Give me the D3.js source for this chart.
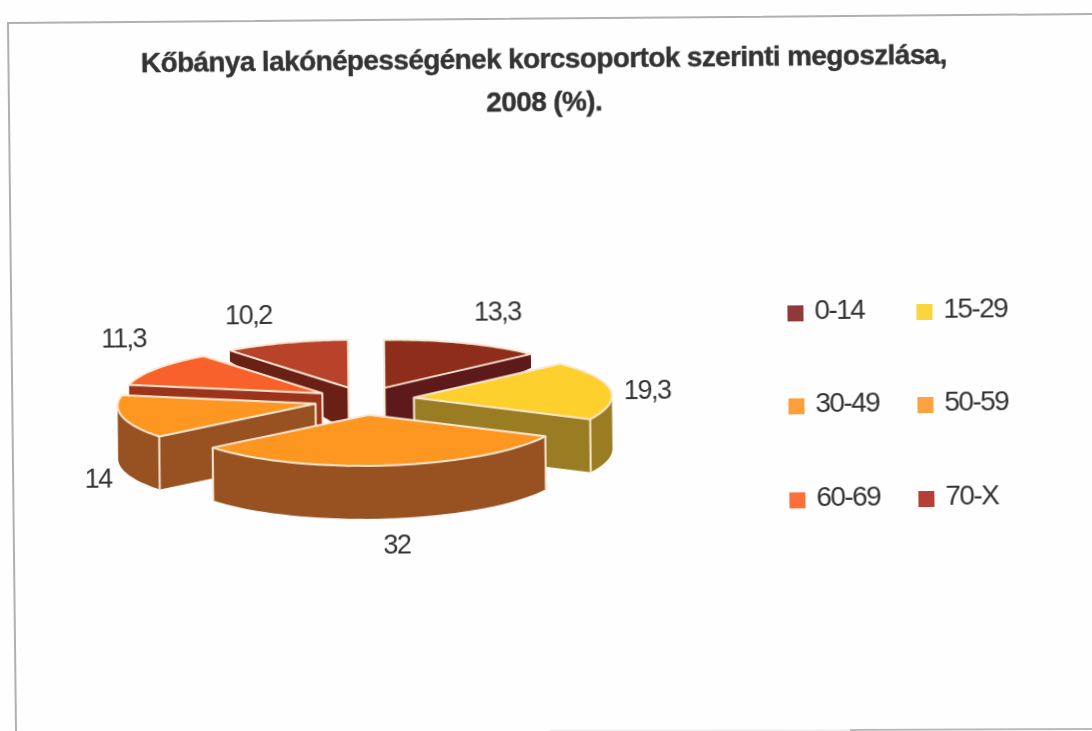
<!DOCTYPE html>
<html>
<head>
<meta charset="utf-8">
<script src="https://cdn.jsdelivr.net/npm/d3@7"></script>
<style>
    html, body { margin: 0; padding: 0; background: #fefefe; }
    svg { display: block; }
    text { font-family: "Liberation Sans", Arial, sans-serif; fill: #333; }
</style>
</head>
<body>
<div id="chart"></div>
<script>
const titleLines = ['Kőbánya lakónépességének korcsoportok szerinti megoszlása,', '2008 (%).'];
const categories = ['0-14', '15-29', '30-49', '50-59', '60-69', '70-X'];
const values = [13.3, 19.3, 32, 14, 11.3, 10.2];
const valueLabels = ['13,3', '19,3', '32', '14', '11,3', '10,2'];
const topColors = ['#8f2d1c', '#fdd02e', '#fd9722', '#fd9722', '#f8622a', '#b8432a'];
const sideColors = ['#5e1a1a', '#9a7d22', '#985222', '#985222', '#9c341c', '#6b2015'];
const legendColors = ['#8f3a38', '#fbd53c', '#fd9f3c', '#fda23e', '#fd6f38', '#b53f36'];

const w = 1092;
const h = 731;
const edge = '#f8e8d4';

// pie geometry, the photo is a slightly rotated scan
const cx = 364, cy = 398;
const rx = 198;
const ryBack = 48, ryFront = 51;
const explodeX = 50;
const explodeBack = 13, explodeFront = 15;
const depth = d3.scaleLinear().domain([351, 395]).range([11, 53]).clamp(true);

// where the value labels sit, same order as values
const labelX = [498, 647, 395, 97, 124, 249];
const labelY = [310, 390, 542, 473, 333, 311];

const svg = d3.select('#chart').append('svg').attr('width', w).attr('height', h);

// scanned page frame, the bottom line fades out to the left
svg.append('path')
    .attr('d', 'M1092,14 L8,23 L16,731')
    .attr('fill', 'none').attr('stroke', '#b0b0b0').attr('stroke-width', 2);
svg.append('path')
    .attr('d', 'M550,730.5 L850,730')
    .attr('fill', 'none').attr('stroke', '#eee').attr('stroke-width', 1.5);
svg.append('path')
    .attr('d', 'M850,730 L1092,729')
    .attr('fill', 'none').attr('stroke', '#bbb').attr('stroke-width', 2);

const root = svg.append('g')
    .attr('transform', 'rotate(-0.6 546 365)')
    .style('filter', 'blur(0.45px)');

root.selectAll('.title')
    .data(titleLines)
    .join('text')
    .attr('class', 'title')
    .attr('x', 547)
    .attr('y', (d, i) => 68 + i * 43)
    .attr('text-anchor', 'middle')
    .attr('font-size', 28)
    .attr('font-weight', 'bold')
    .attr('letter-spacing', -0.62)
    .style('stroke', '#333')
    .style('stroke-width', 0.4)
    .text(d => d);

const slices = d3.pie().sort(null).value(d => d)(values)
    .map((s, i) => {
        const mid = (s.startAngle + s.endAngle) / 2;
        const c = Math.cos(mid);
        return {
            i,
            start: s.startAngle,
            end: s.endAngle,
            mid,
            ax: cx + explodeX * Math.sin(mid),
            ay: cy - (c < 0 ? explodeFront : explodeBack) * c,
        };
    });

const rimPoint = (s, a) => {
    const c = Math.cos(a);
    return [s.ax + rx * Math.sin(a), s.ay - (c < 0 ? ryFront : ryBack) * c];
};
const dropped = p => [p[0], p[1] + depth(p[1])];
const arcPoints = (s, a0, a1) => d3.range(0, 41).map(k => rimPoint(s, a0 + (a1 - a0) * k / 40));
const line = d3.line();

// painter's order, back slices first
const order = slices.slice().sort((a, b) => Math.cos(b.mid) - Math.cos(a.mid));

order.forEach(s => {
    const g = root.append('g');
    const apex = [s.ax, s.ay];

    // cut faces, only the ones turned to the viewer
    [[s.start, -1], [s.end, 1]].forEach(([a, dir]) => {
        if (Math.cos(a + dir * Math.PI / 2) >= -0.001) return;
        const p = rimPoint(s, a);
        g.append('path')
            .attr('d', line([apex, p, dropped(p), dropped(apex)]) + 'Z')
            .attr('fill', sideColors[s.i]);
        g.append('path')
            .attr('d', line([apex, dropped(apex)]))
            .attr('stroke', edge).attr('stroke-width', 2);
    });

    // outer wall, front half of the ellipse only
    const a0 = Math.max(s.start, Math.PI / 2);
    const a1 = Math.min(s.end, Math.PI * 1.5);
    if (a1 > a0) {
        const pts = arcPoints(s, a0, a1);
        g.append('path')
            .attr('d', line(pts.concat(pts.map(dropped).reverse())) + 'Z')
            .attr('fill', sideColors[s.i]);
        [s.start, s.end].filter(a => a >= a0 && a <= a1).forEach(a => {
            const p = rimPoint(s, a);
            g.append('path')
                .attr('d', line([p, dropped(p)]))
                .attr('stroke', edge).attr('stroke-width', 2);
        });
    }

    // top
    g.append('path')
        .attr('d', line([apex].concat(arcPoints(s, s.start, s.end))) + 'Z')
        .attr('fill', topColors[s.i])
        .attr('stroke', edge)
        .attr('stroke-width', 2)
        .attr('stroke-linejoin', 'round');
});

root.selectAll('.value')
    .data(valueLabels)
    .join('text')
    .attr('class', 'value')
    .attr('x', (d, i) => labelX[i])
    .attr('y', (d, i) => labelY[i] + 10)
    .attr('text-anchor', 'middle')
    .attr('font-size', 27)
    .attr('letter-spacing', -1.4)
    .text(d => d);

// legend, two columns
const legendCol = [788, 917];
const legendRow = [316, 409, 503];
const legend = root.selectAll('.legend')
    .data(categories)
    .join('g')
    .attr('class', 'legend')
    .attr('transform', (d, i) => `translate(${legendCol[i % 2]},${legendRow[Math.floor(i / 2)]})`);

legend.append('rect')
    .attr('y', -8)
    .attr('width', 16)
    .attr('height', 16)
    .attr('fill', (d, i) => legendColors[i]);

legend.append('text')
    .attr('x', 27)
    .attr('y', 6)
    .attr('font-size', 28)
    .attr('letter-spacing', -1.6)
    .text(d => d);
</script>
</body>
</html>
